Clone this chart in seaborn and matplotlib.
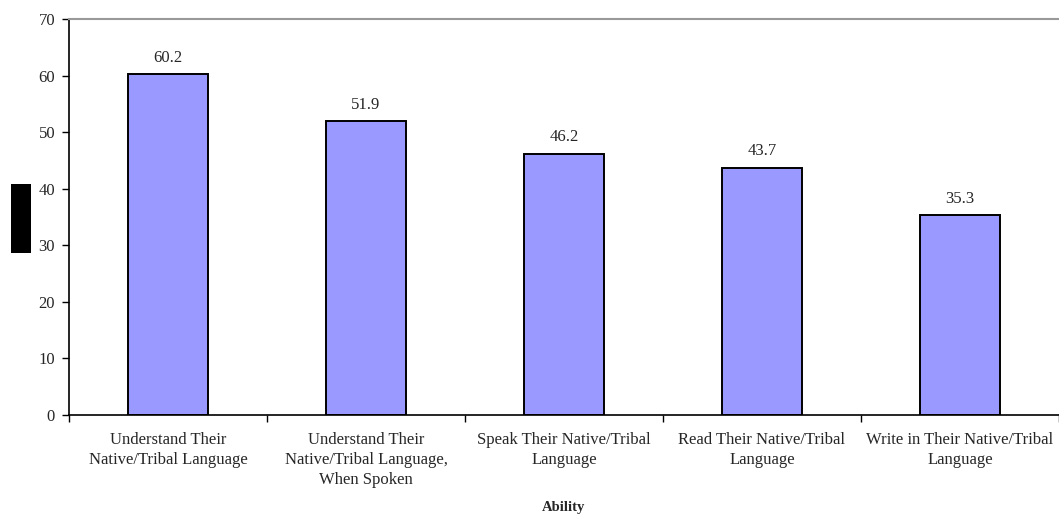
import matplotlib
matplotlib.use("Agg")
import matplotlib.pyplot as plt
import seaborn as sns
import pandas as pd
from matplotlib.patches import Rectangle

categories = [
    "Understand Their\nNative/Tribal Language",
    "Understand Their\nNative/Tribal Language,\nWhen Spoken",
    "Speak Their Native/Tribal\nLanguage",
    "Read Their Native/Tribal\nLanguage",
    "Write in Their Native/Tribal\nLanguage",
]
values = [60.2, 51.9, 46.2, 43.7, 35.3]
value_labels = ["60.2", "51.9", "46.2", "43.7", "35.3"]
y_ticks = [0, 10, 20, 30, 40, 50, 60, 70]

sns.set_theme(style="white")
plt.rcParams["font.family"] = ["Liberation Serif", "DejaVu Serif"]

df = pd.DataFrame({"cat": categories, "val": values})

fig = plt.figure(figsize=(10.59, 5.17), dpi=100)
ax = fig.add_axes([69 / 1059, 1 - 415 / 517, 1 - 69 / 1059, (415 - 19) / 517])

sns.barplot(data=df, x="cat", y="val", color="#9999FF", saturation=1,
            width=0.405, edgecolor="black", linewidth=1.4, ax=ax)

ax.set_xlim(-0.5, len(categories) - 0.5)
ax.set_ylim(0, 70)
ax.set_yticks(y_ticks)
ax.set_yticklabels([str(t) for t in y_ticks], fontsize=12)
ax.tick_params(axis="y", direction="out", length=5, width=1, color="black", left=True, pad=5)

ax.set_xticks(range(len(categories)))
ax.set_xticklabels(categories, fontsize=12, linespacing=1.35)
ax.tick_params(axis="x", which="major", length=0, pad=12)
ax.set_xticks([i - 0.5 for i in range(len(categories) + 1)], minor=True)
ax.tick_params(axis="x", which="minor", direction="out", length=5, width=1,
               color="black", bottom=True)

for i, (v, lab) in enumerate(zip(values, value_labels)):
    ax.annotate(lab, (i, v), xytext=(0, 6), textcoords="offset points",
                ha="center", va="bottom", fontsize=12)

ax.set_xlabel("")
ax.set_ylabel("")
fig.text(ax.get_position().x0 + ax.get_position().width * 0.5, 1 - 508 / 517,
         "Ability", ha="center", va="center", fontsize=10.5, fontweight="bold")

for side in ["left", "bottom"]:
    ax.spines[side].set_color("black")
    ax.spines[side].set_linewidth(1.2)
ax.spines["top"].set_color("#999999")
ax.spines["top"].set_linewidth(1.5)
ax.spines["right"].set_visible(False)

# Solid block beside the vertical axis
fig.patches.append(Rectangle((11 / 1059, 1 - 253 / 517), 20 / 1059, 69 / 517,
                             transform=fig.transFigure, facecolor="black",
                             edgecolor="none"))

fig.savefig("out.png", dpi=100)
